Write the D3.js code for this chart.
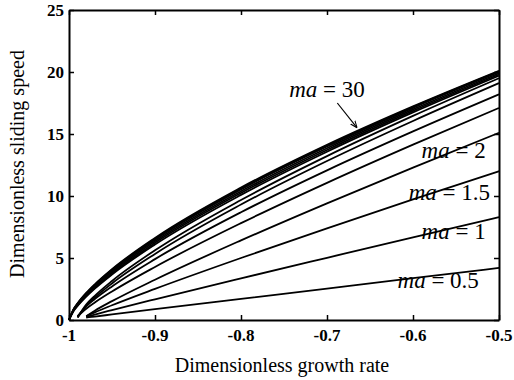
<!DOCTYPE html>
<html><head><meta charset="utf-8">
<script src="https://cdn.jsdelivr.net/npm/d3@7"></script>
<style>body{margin:0;background:#fff}svg{display:block}</style>
</head><body>
<svg id="chart" width="514" height="380"></svg>
<script>
// Shared x samples (dimensionless growth rate)
const xSamples = [-1, -0.995, -0.99, -0.98, -0.97, -0.95, -0.9, -0.8, -0.7, -0.6, -0.5];
// Series: ma values and dimensionless sliding speed at each x sample (null = not plotted)
const maValues = [0.5, 1, 1.5, 2, 2.5, 3, 4, 5, 6, 8, 10, 15, 20, 30];
const s_ma0_5 = [null,null,null,0.2,0.28,0.45,0.87,1.7,2.53,3.37,4.2];
const s_ma1   = [null,null,null,0.25,0.44,0.80,1.67,3.36,5.02,6.67,8.3];
const s_ma1_5 = [null,null,null,0.3,0.62,1.19,2.51,5.0,7.39,9.72,12.0];
const s_ma2   = [null,null,null,0.3,0.75,1.52,3.25,6.42,9.41,12.29,15.1];
const s_ma2_5 = [null,null,0.3,0.91,1.41,2.30,4.28,7.81,11.06,14.14,17.1];
const s_ma3   = [null,null,0.3,1.10,1.69,2.71,4.91,8.69,12.07,15.21,18.2];
const s_ma4   = [null,null,0.2,1.14,1.81,2.95,5.33,9.31,12.82,16.05,19.1];
const s_ma5   = [null,null,0.2,1.24,1.95,3.15,5.62,9.68,13.22,16.46,19.5];
const s_ma6   = [0,0.68,1.13,1.88,2.53,3.67,6.09,10.09,13.57,16.74,19.7];
const s_ma8   = [0,0.72,1.18,1.95,2.61,3.77,6.22,10.24,13.71,16.86,19.8];
const s_ma10  = [0,0.76,1.24,2.02,2.70,3.88,6.35,10.38,13.85,16.98,19.9];
const s_ma15  = [0,0.80,1.29,2.10,2.79,3.99,6.48,10.53,13.99,17.11,20.0];
const s_ma20  = [0,0.82,1.32,2.14,2.84,4.05,6.55,10.61,14.06,17.17,20.05];
const s_ma30  = [0,0.84,1.35,2.18,2.88,4.10,6.62,10.68,14.13,17.23,20.1];
const seriesList = [s_ma0_5,s_ma1,s_ma1_5,s_ma2,s_ma2_5,s_ma3,s_ma4,s_ma5,s_ma6,s_ma8,s_ma10,s_ma15,s_ma20,s_ma30];

const xTicks = [-1, -0.9, -0.8, -0.7, -0.6, -0.5];
const xTickLabels = ["-1", "-0.9", "-0.8", "-0.7", "-0.6", "-0.5"];
const yTicks = [0, 5, 10, 15, 20, 25];
const yTickLabels = ["0", "5", "10", "15", "20", "25"];
const annotations = [
  {ma: "30",  x: -0.744, y: 17.95},
  {ma: "2",   x: -0.59,  y: 13.1},
  {ma: "1.5", x: -0.605, y: 9.7},
  {ma: "1",   x: -0.59,  y: 6.5},
  {ma: "0.5", x: -0.618, y: 2.6}
];

const svg = d3.select("#chart");
const L = 69, R = 499, T = 10, B = 320;
const x = d3.scaleLinear().domain([-1, -0.5]).range([L, R]);
const y = d3.scaleLinear().domain([0, 25]).range([B, T]);
const serif = "'Liberation Serif','Times New Roman',Times,serif";

// curves
const line = d3.line()
  .defined(d => d[1] !== null)
  .x(d => x(d[0])).y(d => y(d[1]))
  .curve(d3.curveMonotoneX);
const g = svg.append("g");
seriesList.forEach(s => {
  g.append("path")
    .attr("d", line(xSamples.map((xv, i) => [xv, s[i]])))
    .attr("fill", "none").attr("stroke", "#000").attr("stroke-width", 1.8);
});

// frame and inward ticks (box style)
const axB = d3.axisBottom(x).tickValues(xTicks).tickSizeInner(-5).tickSizeOuter(0).tickFormat("");
const axT = d3.axisTop(x).tickValues(xTicks).tickSizeInner(-5).tickSizeOuter(0).tickFormat("");
const axL = d3.axisLeft(y).tickValues(yTicks).tickSizeInner(-5).tickSizeOuter(0).tickFormat("");
const axR = d3.axisRight(y).tickValues(yTicks).tickSizeInner(-5).tickSizeOuter(0).tickFormat("");
[[axB, `translate(0,${B})`], [axT, `translate(0,${T})`], [axL, `translate(${L},0)`], [axR, `translate(${R},0)`]]
  .forEach(([ax, tr]) => {
    const a = svg.append("g").attr("transform", tr).call(ax);
    a.selectAll("path").attr("stroke", "#000").attr("stroke-width", 2);
    a.selectAll("line").attr("stroke", "#000").attr("stroke-width", 1.5);
  });

// tick labels
svg.append("g").selectAll("text").data(xTicks).join("text")
  .attr("x", d => x(d)).attr("y", 341)
  .attr("text-anchor", "middle")
  .attr("font-family", serif).attr("font-weight", "bold").attr("font-size", 17)
  .text((d, i) => xTickLabels[i]);
svg.append("g").selectAll("text").data(yTicks).join("text")
  .attr("x", 64).attr("y", d => y(d) + 6)
  .attr("text-anchor", "end")
  .attr("font-family", serif).attr("font-weight", "bold").attr("font-size", 17)
  .text((d, i) => yTickLabels[i]);

// axis titles
svg.append("text").attr("x", 282).attr("y", 372).attr("text-anchor", "middle")
  .attr("font-family", serif).attr("font-size", 20).text("Dimensionless growth rate");
svg.append("text").attr("transform", "translate(24,164) rotate(-90)").attr("text-anchor", "middle")
  .attr("font-family", serif).attr("font-size", 20).text("Dimensionless sliding speed");

// annotations
annotations.forEach(a => {
  const t = svg.append("text").attr("x", x(a.x)).attr("y", y(a.y))
    .attr("font-family", serif).attr("font-size", 23);
  t.append("tspan").attr("font-style", "italic").text("ma");
  t.append("tspan").text(" = " + a.ma);
});

// arrow for ma = 30
svg.append("defs").append("marker").attr("id", "ah")
  .attr("viewBox", "0 0 10 10").attr("refX", 10).attr("refY", 5)
  .attr("markerWidth", 7).attr("markerHeight", 7).attr("orient", "auto")
  .attr("markerUnits", "userSpaceOnUse")
  .append("path").attr("d", "M0,1 L10,5 L0,9").attr("fill", "none").attr("stroke", "#000").attr("stroke-width", 1.5);
svg.append("line")
  .attr("x1", x(-0.688)).attr("y1", y(17.5))
  .attr("x2", x(-0.665)).attr("y2", y(15.5))
  .attr("stroke", "#000").attr("stroke-width", 1.2).attr("marker-end", "url(#ah)");
</script>
</body></html>
